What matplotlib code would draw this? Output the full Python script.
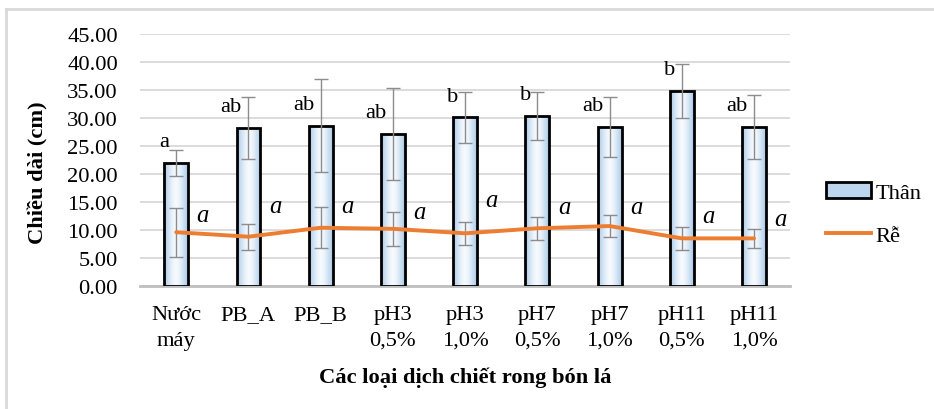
import numpy as np
import matplotlib
matplotlib.use("Agg")
import matplotlib.pyplot as plt
from matplotlib.lines import Line2D

plt.rcParams['font.family'] = ['Liberation Serif', 'DejaVu Serif']

nhom = ["Nước\nmáy", "PB_A", "PB_B", "pH3\n0,5%", "pH3\n1,0%",
        "pH7\n0,5%", "pH7\n1,0%", "pH11\n0,5%", "pH11\n1,0%"]
than = [22.0, 28.2, 28.6, 27.2, 30.1, 30.3, 28.4, 34.8, 28.4]
than_sd = [2.3, 5.6, 8.3, 8.2, 4.5, 4.3, 5.4, 4.8, 5.7]
re = [9.6, 8.8, 10.4, 10.2, 9.4, 10.3, 10.7, 8.5, 8.5]
re_sd = [4.4, 2.3, 3.7, 3.0, 2.0, 2.1, 1.9, 2.0, 1.7]
chu_than = ["a", "ab", "ab", "ab", "b", "b", "ab", "b", "ab"]
chu_re = ["a"] * 9
y_chu_re = [12.6, 14.3, 14.2, 13.2, 15.3, 14.1, 14.1, 12.5, 11.9]

fs = 16.2
x = np.arange(len(nhom))

fig = plt.figure(figsize=(9.34, 4.10), dpi=100)
ax = fig.add_axes([0.150, 0.300, 0.696, 0.615])

bars = ax.bar(x, than, width=0.33, color='#d6e6f5', edgecolor='black',
              linewidth=2, zorder=3, label='Thân')

# gradient fill giong Excel
grad = np.linspace(-1, 1, 64)
grad = 1 - np.abs(grad) ** 1.5
cmap = matplotlib.colors.LinearSegmentedColormap.from_list(
    'g', ['#a7c8e8', '#f6fafe'])
for b in bars:
    bx, by = b.get_x(), b.get_y()
    w, h = b.get_width(), b.get_height()
    im = ax.imshow(grad[np.newaxis, :], cmap=cmap, aspect='auto',
                   extent=[bx, bx + w, by, by + h], zorder=3.5,
                   vmin=0, vmax=1)
    im.set_clip_path(b)
    b.set_zorder(4)
    b.set_facecolor('none')

ax.errorbar(x, than, yerr=than_sd, fmt='none', ecolor='#8c8c8c',
            elinewidth=1, capsize=5, zorder=5)
ax.plot(x, re, color='#ed7d31', linewidth=2.8, zorder=6, label='Rễ',
        solid_capstyle='round')
ax.errorbar(x, re, yerr=re_sd, fmt='none', ecolor='#8c8c8c',
            elinewidth=1, capsize=5, zorder=5)

for i in range(len(nhom)):
    ax.text(i - 0.09, than[i] + 3.8, chu_than[i], ha='right', va='center',
            fontsize=fs, zorder=7)
    ax.text(i + 0.37, y_chu_re[i], chu_re[i], ha='center', va='center',
            fontsize=fs + 1.5, style='italic', zorder=7)

ax.set_xlim(-0.5, len(nhom) - 0.5)
ax.set_ylim(0, 45)
ax.set_yticks(np.arange(0, 46, 5))
ax.set_yticklabels([f"{v:.2f}" for v in np.arange(0, 46, 5)])
ax.set_xticks(x)
ax.set_xticklabels(nhom, linespacing=1.45)
ax.tick_params(axis='both', length=0, labelsize=fs)
ax.tick_params(axis='y', pad=16)
ax.tick_params(axis='x', pad=14)
ax.grid(axis='y', color='#d9d9d9', linewidth=1.3, zorder=0)
ax.set_axisbelow(True)
for s in ['top', 'right', 'left']:
    ax.spines[s].set_visible(False)
ax.spines['bottom'].set_color('#bfbfbf')
ax.spines['bottom'].set_linewidth(2)
ax.spines['bottom'].set_zorder(2)

h1 = matplotlib.patches.Patch(facecolor='#bcd6ef', edgecolor='black', linewidth=2)
h2 = Line2D([0], [0], color='#ed7d31', linewidth=2.8)
fig.legend([h1, h2], ['Thân', 'Rễ'], loc='center left',
           bbox_to_anchor=(0.875, 0.475), frameon=False, fontsize=fs,
           handlelength=2.0, handleheight=0.7, handletextpad=0.2,
           labelspacing=1.0, borderaxespad=0)

fig.text(0.041, 0.58, "Chiều dài (cm)", rotation=90, ha='center',
         va='center', fontsize=fs, fontweight='bold')
fig.text(0.498, 0.078, "Các loại dịch chiết rong bón lá", ha='center',
         va='center', fontsize=fs, fontweight='bold')

# khung vien ngoai
fig.add_artist(Line2D([6 / 934, 6 / 934], [0, 1 - 10 / 410],
                      color='#d9d9d9', linewidth=2))
fig.add_artist(Line2D([6 / 934, 1], [1 - 10 / 410, 1 - 10 / 410],
                      color='#d9d9d9', linewidth=2))

plt.savefig("out.png", dpi=100)
plt.close()
